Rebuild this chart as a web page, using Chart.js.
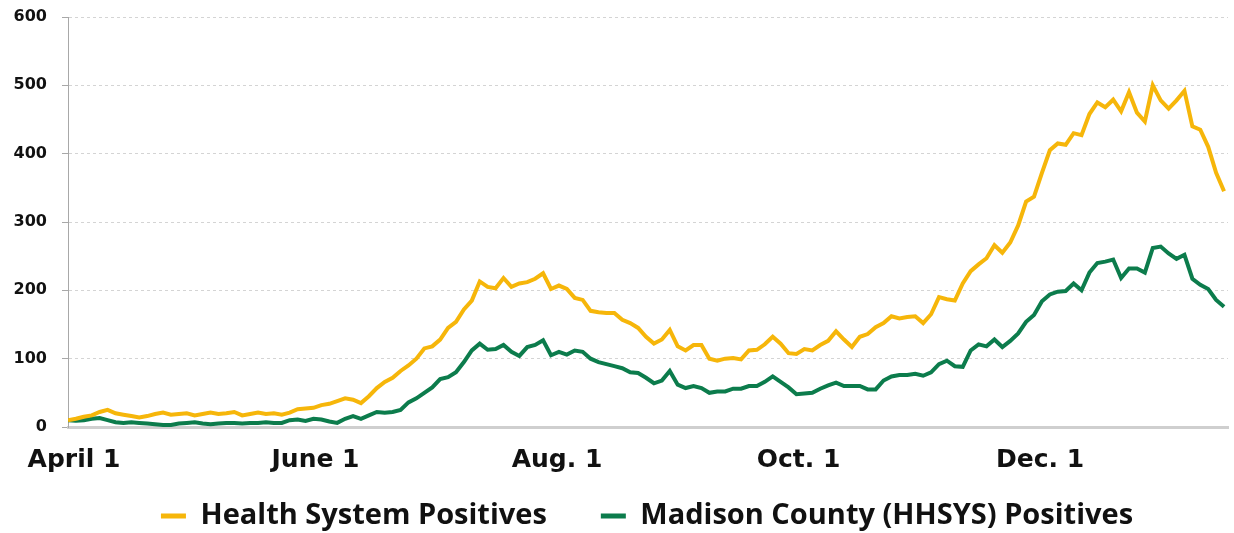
<!DOCTYPE html>
<html>
<head>
<meta charset="utf-8">
<script src="https://cdn.jsdelivr.net/npm/chart.js@4/dist/chart.umd.min.js"></script>
<style>
  html, body { margin: 0; padding: 0; background: #fff; }
  #wrap { width: 1234px; height: 533px; }
</style>
</head>
<body>
<div id="wrap"><canvas id="chart"></canvas></div>
<script>
// dias desde el 1 de abril, cada 2 dias
const healthSystem = [
  10, 12, 15, 17, 22, 25, 20, 18, 16, 14, 16, 19, 21, 18, 19, 20, 17, 19, 21, 19,
  20, 22, 17, 19, 21, 19, 20, 18, 21, 26, 27, 28, 32, 34, 38, 42, 40, 35, 45, 57,
  66, 72, 82, 90, 100, 115, 118, 128, 145, 154, 172, 185, 213, 205, 203, 218, 205, 210, 212, 217,
  225, 202, 207, 202, 189, 186, 170, 168, 167, 167, 157, 152, 145, 132, 122, 128, 142, 118, 112, 120,
  120, 100, 97, 100, 101, 99, 112, 113, 121, 132, 122, 108, 107, 114, 112, 120, 126, 140, 128, 117,
  132, 136, 146, 152, 162, 159, 161, 162, 152, 165, 190, 187, 185, 210, 228, 238, 247, 266, 255, 270,
  295, 330, 337, 372, 405, 415, 413, 430, 427, 458, 475, 468, 479, 462, 490, 460, 447, 500, 478, 466,
  478, 492, 440, 435, 410, 372, 345
];
const madisonCounty = [
  10, 9, 10, 12, 13, 10, 7, 6, 7, 6, 5, 4, 3, 3, 5, 6, 7, 5, 4, 5,
  6, 6, 5, 6, 6, 7, 6, 6, 10, 11, 9, 12, 11, 8, 6, 12, 16, 12, 17, 22,
  21, 22, 25, 36, 42, 50, 58, 70, 73, 80, 95, 112, 122, 113, 114, 120, 110, 104, 117, 120,
  127, 105, 110, 106, 112, 110, 100, 95, 92, 89, 86, 80, 79, 72, 64, 68, 82, 62, 57, 60,
  57, 50, 52, 52, 56, 56, 60, 60, 66, 74, 66, 58, 48, 49, 50, 56, 61, 65, 60, 60,
  60, 55, 55, 68, 74, 76, 76, 78, 75, 80, 92, 97, 89, 88, 112, 121, 118, 128, 117, 126,
  137, 154, 164, 184, 194, 198, 199, 210, 200, 226, 240, 242, 245, 218, 232, 232, 226, 262, 264, 254,
  246, 252, 217, 208, 202, 186, 176
];
const dayStep = 2;
const xTickDays = [0, 61, 122, 183, 244];
const xTickLabels = ['April 1', 'June 1', 'Aug. 1', 'Oct. 1', 'Dec. 1'];
const yTicks = [0, 100, 200, 300, 400, 500, 600];

const yellow = '#F6B60A';
const green = '#0C7C4C';

const toPoints = (arr) => arr.map((v, i) => ({ x: i * dayStep, y: v }));

// la leyenda usa el mismo padding en horizontal y vertical:
// se fija su alto y luego se mueve para que el texto quede centrado en legendTextY
const legendHeight = 51;
const legendTextY = 516;
const legendShiftX = 33;
const legendFit = {
  id: 'legendFit',
  beforeLayout(chart) {
    const lg = chart.legend;
    if (lg && !lg._fixed) {
      const fit = lg.fit;
      lg.fit = function () { fit.call(this); this.height = legendHeight; };
      lg._fixed = true;
    }
  },
  afterLayout(chart) {
    const lg = chart.legend;
    const lab = lg.options.labels;
    lg.top = legendTextY - lab.padding - lab.font.size / 2;
    lg.left += legendShiftX;
    lg.right += legendShiftX;
  },
};

const ctx = document.getElementById('chart').getContext('2d');
const miGrafico = new Chart(ctx, {
  type: 'line',
  data: {
    datasets: [
      {
        label: 'Health System Positives',
        data: toPoints(healthSystem),
        borderColor: yellow,
        backgroundColor: yellow,
        borderWidth: 4,
        pointRadius: 0,
        tension: 0,
      },
      {
        label: 'Madison County (HHSYS) Positives',
        data: toPoints(madisonCounty),
        borderColor: green,
        backgroundColor: green,
        borderWidth: 4,
        pointRadius: 0,
        tension: 0,
      },
    ],
  },
  plugins: [legendFit],
  options: {
    responsive: true,
    maintainAspectRatio: false,
    animation: false,
    layout: { padding: { top: 17, right: 6, left: 0, bottom: 0 } },
    plugins: {
      tooltip: { enabled: false },
      legend: {
        position: 'bottom',
        labels: {
          usePointStyle: true,
          pointStyle: 'line',
          pointStyleWidth: 25,
          padding: 54,
          color: '#111',
          font: { family: "'Open Sans', sans-serif", weight: 'bold', size: 29 },
          generateLabels: (chart) => Chart.defaults.plugins.legend.labels.generateLabels(chart)
            .map(l => Object.assign(l, { lineWidth: 5 })),
        },
      },
    },
    scales: {
      x: {
        type: 'linear',
        min: 0,
        max: 293,
        afterBuildTicks: (scale) => { scale.ticks = xTickDays.map(v => ({ value: v })); },
        afterFit: (scale) => { scale.height = 55; },
        grid: { display: false, drawTicks: false },
        border: { display: true, color: '#cfcfcf', width: 3 },
        ticks: {
          padding: 18,
          labelOffset: 6,
          maxRotation: 0,
          autoSkip: false,
          color: '#111',
          font: { family: "'DejaVu Sans', sans-serif", weight: 'bold', size: 25 },
          callback: (v) => xTickLabels[xTickDays.indexOf(v)],
        },
      },
      y: {
        min: 0,
        max: 600,
        afterBuildTicks: (scale) => { scale.ticks = yTicks.map(v => ({ value: v })); },
        afterFit: (scale) => { scale.width = 68; scale.paddingTop = 0; scale.paddingBottom = 0; },
        grid: {
          color: '#d4d4d4',
          lineWidth: 1,
          tickColor: '#a8a8a8',
          tickLength: 6,
          tickBorderDash: [],
        },
        border: { display: true, color: '#a8a8a8', width: 1, dash: [3, 3] },
        ticks: {
          padding: 15,
          color: '#111',
          font: { family: "'DejaVu Sans', sans-serif", weight: 'bold', size: 16 },
        },
      },
    },
  },
});
</script>
</body>
</html>
